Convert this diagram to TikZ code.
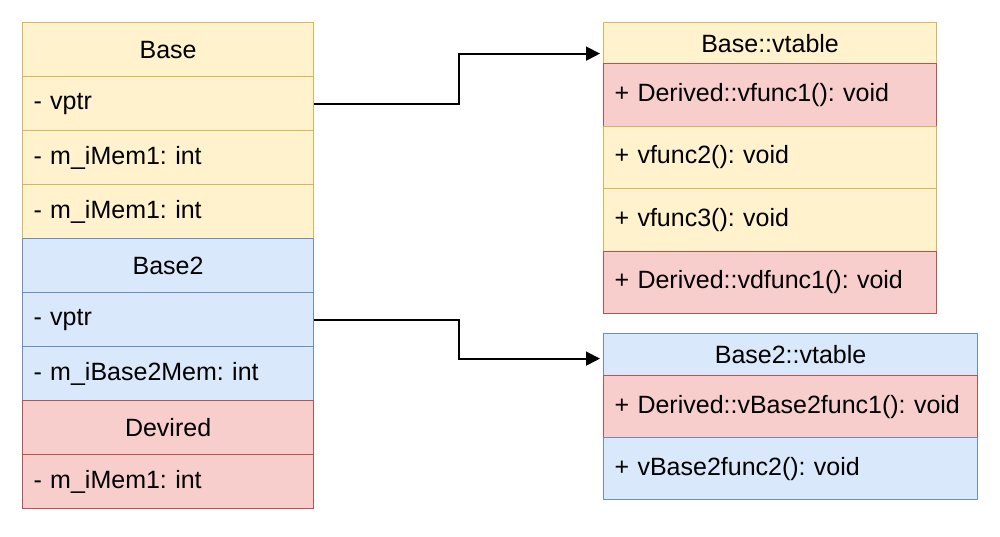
\documentclass[tikz,border=0pt]{standalone}
\usepackage{fontspec}
\setmainfont{Liberation Sans}
\usetikzlibrary{arrows.meta}
\frenchspacing

\definecolor{yfill}{HTML}{FFF2CC}
\definecolor{yline}{HTML}{D6B656}
\definecolor{bfill}{HTML}{DAE8FC}
\definecolor{bline}{HTML}{6C8EBF}
\definecolor{rfill}{HTML}{F8CECC}
\definecolor{rline}{HTML}{B85450}

\tikzset{
	cell/.style={draw, rectangle, anchor=north west, inner xsep=5.5pt, inner ysep=0pt, line width=0.6pt, align=left, font=\fontsize{12.5}{15}\selectfont},
	lcell/.style={cell, text width=134.5pt, minimum height=27pt},
	vcell/.style={cell, text width=155.5pt, minimum height=31.25pt},
	wcell/.style={cell, text width=176pt, minimum height=31pt},
	head/.style={align=center},
	yel/.style={fill=yfill, draw=yline},
	blu/.style={fill=bfill, draw=bline},
	red/.style={fill=rfill, draw=rline},
	ptr/.style={-{Triangle[length=7pt,width=7pt]}, line width=0.9pt, shorten >=1.5pt}
}

\begin{document}
\begin{tikzpicture}[x=0.5pt,y=-0.5pt]
	\useasboundingbox (0,0) rectangle (1000,536);

	% object layout
	\node[lcell,yel,head] (base) at (22,22) {Base};
	\node[lcell,yel] (bvptr) at (22,76) {- vptr};
	\node[lcell,yel] (bmemA) at (22,130) {- m\_iMem1: int};
	\node[lcell,yel] (bmemB) at (22,184) {- m\_iMem1: int};
	\node[lcell,blu,head] (base2) at (22,238) {Base2};
	\node[lcell,blu] (b2vptr) at (22,292) {- vptr};
	\node[lcell,blu] (b2mem) at (22,346) {- m\_iBase2Mem: int};
	\node[lcell,red,head] (dev) at (22,400) {Devired};
	\node[lcell,red] (devmem) at (22,454) {- m\_iMem1: int};

	% Base::vtable
	\node[vcell,yel,head,minimum height=20.5pt] (bvt) at (603,22) {Base::vtable};
	\node[vcell,red] (bvtA) at (603,63) {+ Derived::vfunc1(): void};
	\node[vcell,yel] (bvtB) at (603,125.5) {+ vfunc2(): void};
	\node[vcell,yel] (bvtC) at (603,188) {+ vfunc3(): void};
	\node[vcell,red] (bvtD) at (603,250.5) {+ Derived::vdfunc1(): void};

	% Base2::vtable
	\node[wcell,blu,head,minimum height=21pt] (b2vt) at (603,333) {Base2::vtable};
	\node[wcell,red] (b2vtA) at (603,375) {+ Derived::vBase2func1(): void};
	\node[wcell,blu] (b2vtB) at (603,437) {+ vBase2func2(): void};

	\draw[ptr] (bvptr.east) -- ++(72.5pt,0) |- ([yshift=-5.25pt]bvt.west);
	\draw[ptr] (b2vptr.east) -- ++(72.5pt,0) |- ([yshift=-2pt]b2vt.west);
\end{tikzpicture}
\end{document}
